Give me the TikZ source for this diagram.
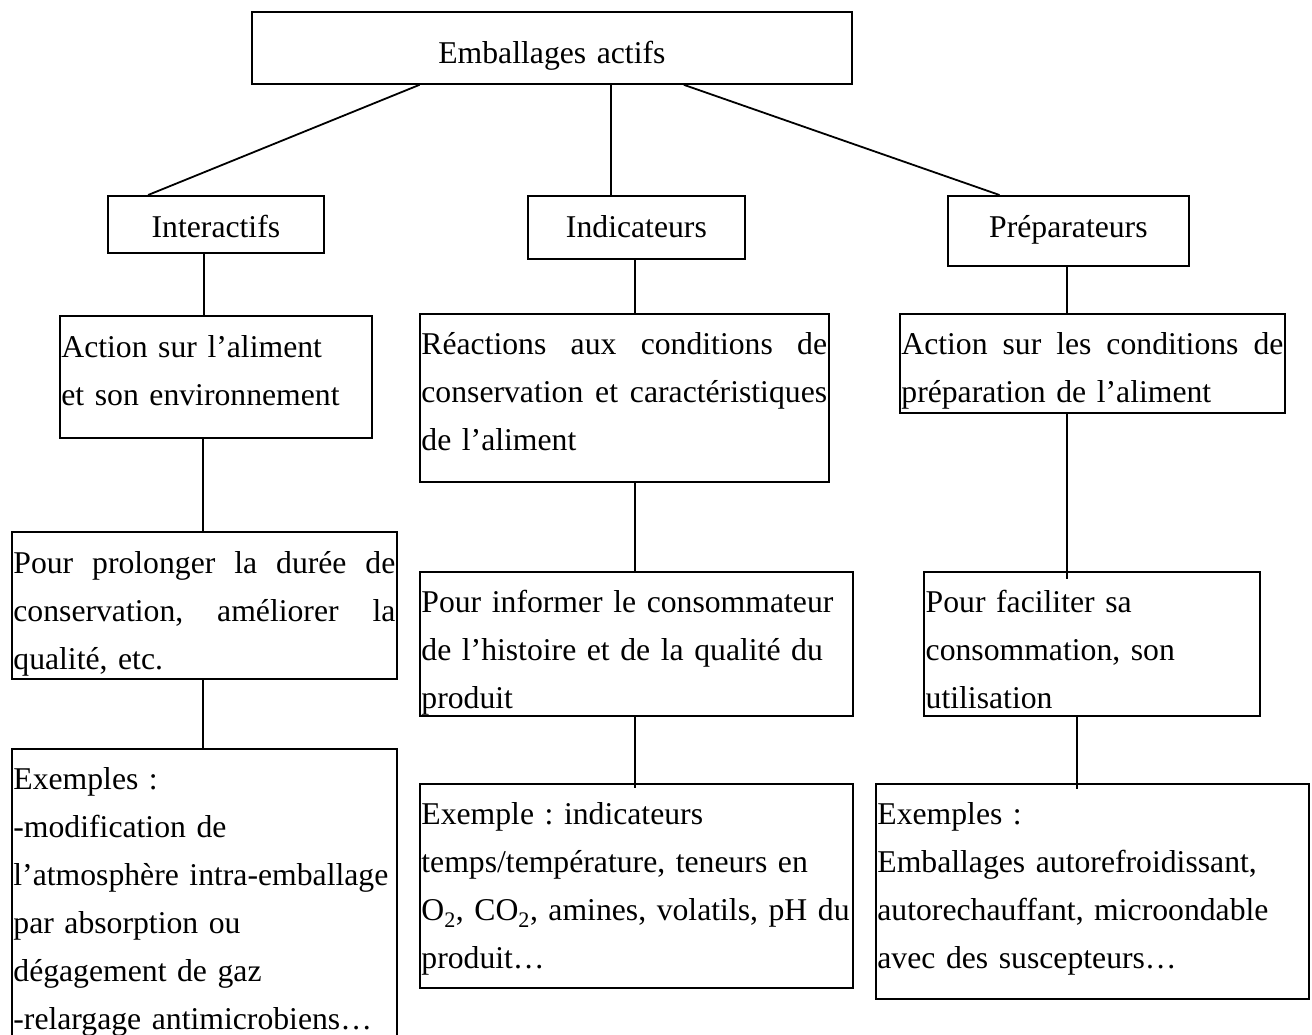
\documentclass[tikz,border=0pt]{standalone}
\usepackage{fontspec}
\setmainfont{Liberation Serif}
\setlength{\parindent}{0pt}
\frenchspacing
% a justified line of a given width: words spread with \hfill
\newcommand{\jline}[2]{\makebox[#1][l]{#2}}

\begin{document}
\begin{tikzpicture}[x=1pt,y=-1pt,
  every node/.style={font=\fontsize{31.7}{48}\selectfont},
  box/.style={draw, line width=1.8pt, rectangle, anchor=north west,
              inner xsep=1.5pt, inner ysep=0pt},
  cell/.style n args={3}{box, text width=#1, text height=#2, text depth=#3},
  link/.style={line width=1.8pt}]

\useasboundingbox (0,0) rectangle (1312,1034);

% root
\node[cell={597pt}{52pt}{20pt}, align=center] (top) at (251,11) {Emballages actifs};

% families
\node[cell={213pt}{41.7pt}{15.3pt}, align=center] (inter) at (107,195) {Interactifs};
\node[cell={214pt}{41.7pt}{21.3pt}, align=center] (indic) at (527,195) {Indicateurs};
\node[cell={238pt}{41.7pt}{28.6pt}, align=center] (prep) at (947,195) {Préparateurs};

% what they act on
\node[cell={309pt}{41.7pt}{80.3pt}, align=left] (act) at (59,315)
  {Action sur l’aliment\\et son environnement};
\node[cell={405.7pt}{40pt}{127.7pt}, align=left] (reac) at (419,313.3)
  {\jline{405.7pt}{Réactions\hfill aux\hfill conditions\hfill de}\\
   \jline{405.7pt}{conservation\hfill et\hfill caractéristiques}\\de l’aliment};
\node[cell={382pt}{40pt}{58.4pt}, align=left] (cond) at (899,313.3)
  {\jline{382pt}{Action\hfill sur\hfill les\hfill conditions\hfill de}\\préparation de l’aliment};

% purposes
\node[cell={382pt}{42pt}{105pt}, align=left] (prol) at (11,530.7)
  {\jline{382pt}{Pour\hfill prolonger\hfill la\hfill durée\hfill de}\\
   \jline{382pt}{conservation,\hfill améliorer\hfill la}\\qualité, etc.};
\node[cell={429.7pt}{40.7pt}{103.3pt}, align=left] (info) at (419,571)
  {Pour informer le consommateur\\de l’histoire et de la qualité du\\produit};
\node[cell={333pt}{40.7pt}{103.3pt}, align=left] (faci) at (923.3,571)
  {Pour faciliter sa\\consommation, son\\utilisation};

% examples
\node[cell={381.7pt}{40.6pt}{300pt}, align=left] (exa) at (11,747.7)
  {Exemples :\\-modification de\\l’atmosphère intra-emballage\\par absorption ou\\dégagement de gaz\\-relargage antimicrobiens…};
\node[cell={429.7pt}{41.3pt}{163.3pt}, align=left] (exb) at (419,782.7)
  {Exemple : indicateurs\\temps/température, teneurs en\\O\textsubscript{2}, CO\textsubscript{2}, amines, volatils, pH du\\produit…};
\node[cell={429.7pt}{41.3pt}{174.3pt}, align=left] (exc) at (875,782.7)
  {Exemples :\\Emballages autorefroidissant,\\autorechauffant, microondable\\avec des suscepteurs…};

% connectors
\draw[link] (419.6,0 |- top.south) -- (148.1,0 |- inter.north);
\draw[link] (611,0 |- top.south) -- (611,0 |- indic.north);
\draw[link] (683.8,0 |- top.south) -- (999.5,0 |- prep.north);

\draw[link] (204,0 |- inter.south) -- (204,0 |- act.north);
\draw[link] (635,0 |- indic.south) -- (635,0 |- reac.north);
\draw[link] (1067,0 |- prep.south) -- (1067,0 |- cond.north);

\draw[link] (203,0 |- act.south) -- (203,0 |- prol.north);
\draw[link] (635,0 |- reac.south) -- (635,0 |- info.north);
\draw[link, shorten >=-8pt] (1067,0 |- cond.south) -- (1067,0 |- faci.north);

\draw[link] (203,0 |- prol.south) -- (203,0 |- exa.north);
\draw[link, shorten >=-5pt] (635,0 |- info.south) -- (635,0 |- exb.north);
\draw[link, shorten >=-6pt] (1077,0 |- faci.south) -- (1077,0 |- exc.north);
\end{tikzpicture}
\end{document}
